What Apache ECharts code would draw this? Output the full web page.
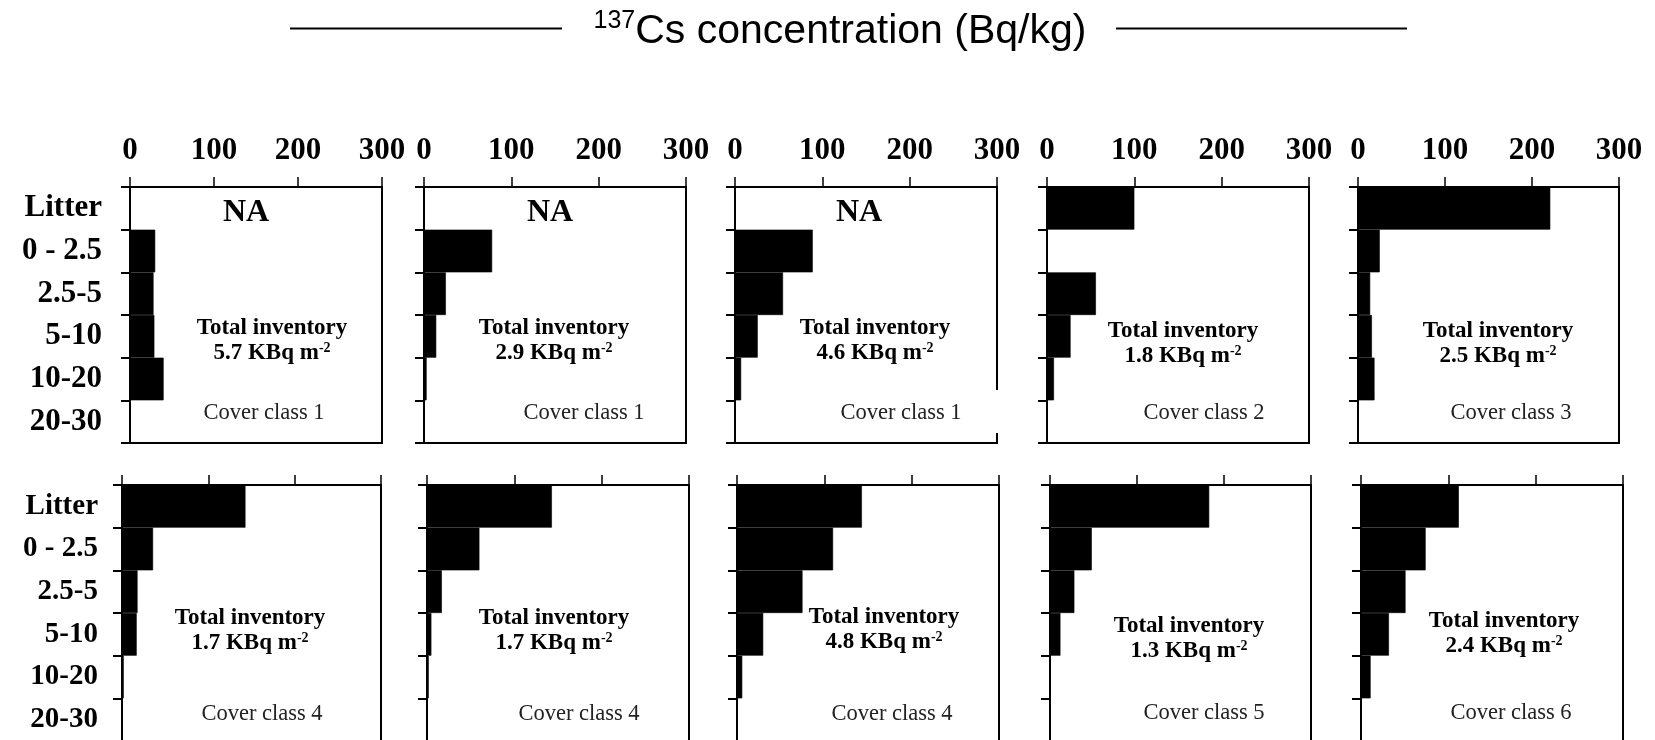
<!DOCTYPE html>
<html>
<head>
<meta charset="utf-8">
<script src="https://cdn.jsdelivr.net/npm/echarts@6/dist/echarts.min.js"></script>
<style>
  html, body { margin: 0; padding: 0; background: #fff; }
  #chart { width: 1655px; height: 740px; }
</style>
</head>
<body>
<div id="chart"></div>
<script>
// Soil depth layers (cm), top to bottom
const depthLayers = ['Litter', '0 - 2.5', '2.5-5', '5-10', '10-20', '20-30'];
const concTicks = [0, 100, 200, 300];

// 137Cs concentration per layer, Bq/kg (null = litter not sampled)
const conc1 = [null, 30, 28, 29, 40, 0];
const conc2 = [null, 78, 25, 14, 3, 0];
const conc3 = [null, 89, 55, 26, 7, 0];
const conc4 = [100, 0, 56, 27, 8, 0];
const conc5 = [221, 25, 14, 16, 19, 0];
const conc6 = [143, 36, 18, 17, 2, 0];
const conc7 = [143, 60, 17, 5, 2, 0];
const conc8 = [143, 110, 75, 30, 6, 0];
const conc9 = [183, 48, 28, 12, 0, 0];
const conc10 = [112, 74, 51, 32, 11, 0];
const siteConc = [conc1, conc2, conc3, conc4, conc5, conc6, conc7, conc8, conc9, conc10];

const coverClass = [1, 1, 1, 2, 3, 4, 4, 4, 5, 6];
const totalInventory = [5.7, 2.9, 4.6, 1.8, 2.5, 1.7, 1.7, 4.8, 1.3, 2.4];

// Panel plot boxes in pixels: [left, top, width]
const PANEL_H = 256;
const panelBox = [
  [130, 187, 252], [424, 187, 262], [735, 187, 262], [1047, 187, 262], [1358, 187, 261],
  [122, 485, 259], [427, 485, 262], [737, 485, 262], [1050, 485, 261], [1361, 485, 262]
];
// Annotation anchors in pixels: inventory block centre, cover-class label, NA label
const invPos = [[272, 341], [554, 341], [875, 341], [1183, 344], [1498, 344],
                [250, 631], [554, 631], [884, 630], [1189, 639], [1504, 634]];
const coverPos = [[264, 413], [584, 413], [901, 413], [1204, 413], [1511, 413],
                  [262, 714], [579, 714], [892, 714], [1204, 713], [1511, 713]];
const naPos = [[246, 213], [550, 213], [859, 213]];

const SERIF = "'Liberation Serif', 'Times New Roman', serif";
const SANS = "'Liberation Sans', Arial, sans-serif";

const grids = [], xAxes = [], yAxes = [], series = [], graphics = [];

siteConc.forEach((vals, i) => {
  const [left, top, width] = panelBox[i];
  const firstRow = i < 5;
  const firstCol = i === 0 || i === 5;
  grids.push({
    left: left, top: top, width: width, height: PANEL_H,
    show: true, borderColor: '#000', borderWidth: 2, backgroundColor: 'transparent',
    containLabel: false, outerBoundsMode: 'none'
  });
  xAxes.push({
    gridIndex: i, type: 'value', position: 'top',
    min: concTicks[0], max: concTicks[concTicks.length - 1],
    interval: concTicks[1] - concTicks[0],
    axisLine: { show: true, lineStyle: { color: '#000', width: 2 } },
    axisTick: { show: true, inside: false, length: 10, lineStyle: { color: '#000', width: 1.5 } },
    axisLabel: {
      show: firstRow, margin: 21, color: '#000',
      fontFamily: SERIF, fontWeight: 'bold', fontSize: 31
    },
    splitLine: { show: false }
  });
  yAxes.push({
    gridIndex: i, type: 'category', data: depthLayers, inverse: true,
    boundaryGap: true,
    axisLine: { show: true, lineStyle: { color: '#000', width: 2 } },
    axisTick: { show: true, inside: false, length: 9, alignWithLabel: false,
                lineStyle: { color: '#000', width: 2 } },
    axisLabel: {
      show: firstCol, margin: i === 0 ? 28 : 24, color: '#000',
      fontFamily: SERIF, fontWeight: 'bold', fontSize: i === 0 ? 31 : 29
    },
    splitLine: { show: false }
  });
  series.push({
    type: 'bar', xAxisIndex: i, yAxisIndex: i,
    data: vals, barWidth: '100%', barGap: '0%',
    itemStyle: { color: '#000', borderColor: '#000', borderWidth: 0.6 },
    emphasis: { disabled: true }, silent: true
  });

  graphics.push({
    type: 'text', x: invPos[i][0], y: invPos[i][1], z: 10,
    style: {
      text: '{b|Total inventory}\n{b|' + totalInventory[i].toFixed(1) + ' KBq m}{s|-2}',
      align: 'center', verticalAlign: 'middle',
      rich: {
        b: { fontFamily: SERIF, fontWeight: 'bold', fontSize: 23, lineHeight: 25, fill: '#000' },
        s: { fontFamily: SERIF, fontWeight: 'bold', fontSize: 14, lineHeight: 15,
             verticalAlign: 'top', fill: '#000' }
      }
    }
  });
  graphics.push({
    type: 'text', x: coverPos[i][0], y: coverPos[i][1], z: 10,
    style: {
      text: 'Cover class ' + coverClass[i],
      align: 'center', verticalAlign: 'middle',
      fontFamily: SERIF, fontSize: 22.5, fill: '#222'
    }
  });
});

// "NA" marks for panels whose litter layer has no value
siteConc.forEach((vals, i) => {
  if (vals[0] === null && naPos[i]) {
    graphics.push({
      type: 'text', x: naPos[i][0], y: naPos[i][1], z: 10,
      style: {
        text: 'NA', align: 'center', verticalAlign: 'middle',
        fontFamily: SERIF, fontWeight: 'bold', fontSize: 32, fill: '#000'
      }
    });
  }
});

// Break in the right frame of the third panel
graphics.push({
  type: 'rect', z: 20,
  shape: { x: 995, y: 390, width: 4, height: 43 },
  style: { fill: '#fff' }
});

// Heading with rules on either side
graphics.push({
  type: 'line', shape: { x1: 290, y1: 28.5, x2: 562, y2: 28.5 },
  style: { stroke: '#000', lineWidth: 2 }
});
graphics.push({
  type: 'line', shape: { x1: 1116, y1: 28.5, x2: 1407, y2: 28.5 },
  style: { stroke: '#000', lineWidth: 2 }
});
graphics.push({
  type: 'text', x: 840, y: 32,
  style: {
    text: '{sup|137}{main|Cs concentration (Bq/kg)}',
    align: 'center', verticalAlign: 'middle',
    rich: {
      main: { fontFamily: SANS, fontSize: 41, lineHeight: 46, fill: '#000' },
      sup: { fontFamily: SANS, fontSize: 25, lineHeight: 30, verticalAlign: 'top', fill: '#000' }
    }
  }
});

const chart = echarts.init(document.getElementById('chart'), null, { renderer: 'canvas' });
chart.setOption({
  animation: false,
  backgroundColor: '#fff',
  grid: grids,
  xAxis: xAxes,
  yAxis: yAxes,
  series: series,
  graphic: graphics
});
</script>
</body>
</html>
